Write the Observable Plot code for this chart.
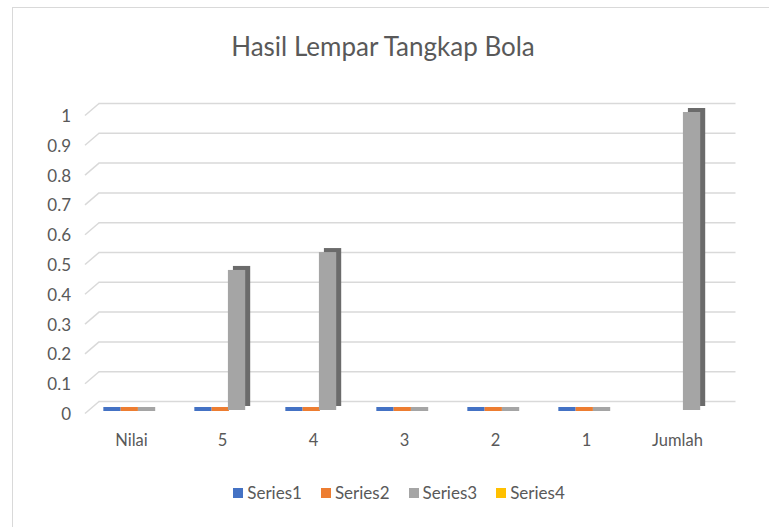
<!DOCTYPE html>
<html><head><meta charset="utf-8">
<script src="https://cdn.jsdelivr.net/npm/d3@7"></script>
<script src="https://cdn.jsdelivr.net/npm/@observablehq/plot@0.6"></script>
<style>
body{margin:0;background:#fff;font-family:Lato,"Open Sans",sans-serif;color:#595959;}
#frame{position:absolute;left:12px;top:7px;width:769px;height:527px;border:1px solid #d9d9d9;box-sizing:border-box;}
#title{position:absolute;left:0;top:30px;width:766px;text-align:center;font-size:26px;line-height:32px;color:#595959;}
#chart{position:absolute;left:0;top:85px;}
#legend{position:absolute;left:0;top:482px;width:798px;display:flex;justify-content:center;gap:19px;font-size:17px;line-height:22px;color:#595959;}
#legend span.item{display:flex;align-items:center;gap:4px;}
#legend span.sw{display:inline-block;width:10px;height:10px;}
</style></head>
<body>
<div id="frame"></div>
<div id="title">Hasil Lempar Tangkap Bola</div>
<div id="chart"></div>
<div id="legend"></div>
<script>
const categories = ["Nilai", "5", "4", "3", "2", "1", "Jumlah"];
const seriesNames = ["Series1", "Series2", "Series3", "Series4"];
const series1 = [0, 0, 0, 0, 0, 0, null];
const series2 = [0, 0, 0, 0, 0, 0, null];
const series3 = [0, 0.47, 0.53, 0, 0, 0, 1];
const series4 = [null, null, null, null, null, null, null];
const yTicks = [0, 0.1, 0.2, 0.3, 0.4, 0.5, 0.6, 0.7, 0.8, 0.9, 1];
const colors = ["#4472C4", "#ED7D31", "#A5A5A5", "#FFC000"];

const allSeries = [series1, series2, series3, series4];
const slot = 0.19, clusterStart = 0.185;
const rows = [];
allSeries.forEach((vals, j) => vals.forEach((v, i) => {
  if (v == null) return;
  const x1 = i + clusterStart + j * slot;
  rows.push({cat: categories[i], series: seriesNames[j], value: v, x1, x2: x1 + slot});
}));
const nonzero = rows.filter(d => d.value > 0);
const zero = rows.filter(d => d.value === 0);

const chart = Plot.plot({
  width: 769,
  height: 375,
  marginLeft: 85.5,
  marginRight: 46.5,
  marginTop: 27,
  marginBottom: 50,
  style: {fontFamily: "Lato, 'Open Sans', sans-serif", color: "#595959", background: "transparent"},
  x: {domain: [0, categories.length], axis: null},
  y: {domain: [0, 1], axis: null},
  color: {domain: seriesNames, range: colors},
  marks: [
    // back-wall gridlines
    Plot.ruleY(yTicks, {y: d => d, x1: 0, x2: categories.length, dx: 13, dy: -9, stroke: "#d9d9d9", strokeWidth: 1.5}),
    // side-wall diagonals
    Plot.link(yTicks, {x1: 0, y1: d => d, x2: 14 / 91, y2: d => d + 12 / 298, dx: -1, dy: 3, stroke: "#d9d9d9", strokeWidth: 1.5}),
    // y labels
    Plot.text(yTicks, {x: 0, y: d => d, text: d => String(d), textAnchor: "end", dx: -15, dy: 4, fontSize: 17, fill: "#595959"}),
    // x labels
    Plot.text(categories, {x: (d, i) => i + 0.5, y: 0, text: d => d, dy: 30, fontSize: 16.5, fill: "#595959"}),
    // flat (zero) bars
    Plot.rectY(zero, {x1: "x1", x2: "x2", y1: 0, y2: "value", fill: "series", insetTop: -4, dx: 1, dy: 1}),
    // 3D side of bars
    Plot.rectY(nonzero, {x1: "x1", x2: "x2", y1: 0, y2: "value", fill: "#6b6b6b", dx: 5, dy: -4}),
    // front face of bars
    Plot.rectY(nonzero, {x1: "x1", x2: "x2", y1: 0, y2: "value", fill: "series"})
  ]
});
document.getElementById("chart").appendChild(chart);

const legend = document.getElementById("legend");
seriesNames.forEach((name, j) => {
  const item = document.createElement("span");
  item.className = "item";
  const sw = document.createElement("span");
  sw.className = "sw";
  sw.style.background = colors[j];
  item.appendChild(sw);
  item.appendChild(document.createTextNode(name));
  legend.appendChild(item);
});
</script>
</body></html>
